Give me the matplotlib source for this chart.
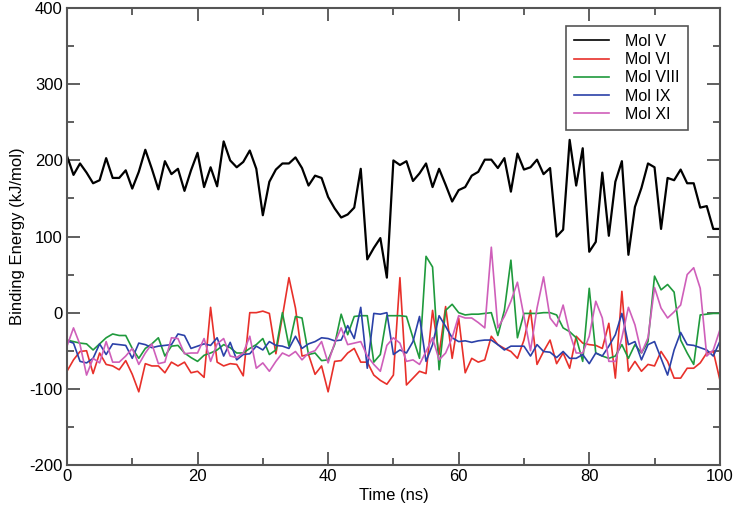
import numpy as np
import matplotlib
matplotlib.use("Agg")
import matplotlib.pyplot as plt
from matplotlib.ticker import MultipleLocator

time_ns = list(range(0, 101))

mol_v = [206, 181, 196, 184, 170, 174, 203, 177, 177, 187,
         163, 185, 214, 189, 162, 199, 182, 189, 160, 187,
         210, 165, 191, 166, 225, 200, 191, 198, 213, 189,
         128, 172, 188, 196, 196, 204, 190, 167, 180, 177,
         152, 137, 125, 129, 138, 189, 70, 85, 98, 46,
         200, 194, 199, 173, 183, 196, 165, 189, 168, 146,
         161, 165, 180, 185, 201, 201, 190, 203, 159, 209,
         188, 191, 201, 182, 190, 100, 109, 227, 167, 216,
         80, 93, 184, 101, 172, 199, 76, 139, 164, 196,
         191, 110, 177, 174, 188, 170, 170, 138, 140, 110,
         110]

mol_vi = [-77, -62, -51, -50, -80, -53, -68, -70, -75, -63,
          -81, -104, -67, -70, -70, -79, -65, -70, -65, -79,
          -77, -85, 7, -65, -70, -67, -68, -83, 0, 0,
          2, -1, -54, -5, 46, 6, -57, -55, -81, -70,
          -104, -64, -63, -53, -47, -65, -65, -82, -89, -94,
          -82, 46, -95, -86, -77, -80, 3, -55, 8, -60,
          -7, -79, -60, -65, -62, -31, -42, -47, -51, -60,
          -36, 3, -68, -51, -36, -67, -53, -73, -31, -40,
          -42, -43, -47, -14, -86, 28, -77, -64, -77, -68,
          -70, -51, -64, -86, -86, -73, -73, -66, -53, -51,
          -88]

mol_viii = [-36, -38, -40, -41, -49, -41, -33, -28, -30, -30,
            -47, -60, -47, -41, -33, -57, -44, -43, -53, -59,
            -64, -56, -53, -49, -42, -46, -53, -53, -47, -42,
            -34, -55, -49, 0, -44, -5, -7, -55, -53, -63,
            -62, -42, -2, -29, -5, -4, -4, -65, -55, -4,
            -4, -4, -5, -33, -60, 74, 60, -75, 3, 11,
            0, -3, -2, -2, -1, 0, -30, 3, 69, -33,
            -1, -1, -1, 0, 0, -3, -20, -25, -33, -64,
            32, -53, -57, -60, -57, -42, -60, -42, -53, -38,
            48, 30, 37, 27, -36, -53, -68, -3, -2, -1,
            -1]

mol_ix = [-37, -40, -64, -66, -60, -41, -55, -41, -42, -43,
          -60, -40, -42, -46, -44, -43, -42, -28, -30, -47,
          -44, -41, -43, -33, -57, -39, -62, -55, -54, -44,
          -49, -38, -43, -44, -47, -31, -47, -41, -38, -33,
          -34, -37, -36, -17, -34, 7, -73, -1, -2, 0,
          -55, -49, -53, -38, -5, -64, -42, -4, -18, -33,
          -38, -37, -39, -37, -36, -36, -42, -49, -44, -44,
          -44, -57, -42, -51, -52, -59, -51, -60, -60, -55,
          -67, -53, -57, -44, -29, -1, -42, -38, -62, -42,
          -38, -60, -82, -49, -26, -42, -43, -46, -49, -57,
          -38]

mol_xi = [-44, -20, -42, -82, -60, -66, -38, -65, -65, -57,
          -47, -68, -53, -41, -67, -65, -33, -34, -54, -53,
          -53, -34, -64, -41, -34, -57, -59, -53, -31, -73,
          -66, -77, -64, -53, -57, -51, -62, -53, -50, -38,
          -66, -40, -20, -42, -40, -38, -57, -68, -77, -43,
          -33, -40, -64, -62, -68, -51, -33, -62, -53, -33,
          -4, -7, -7, -13, -20, 86, -20, -5, 15, 40,
          -5, -50, 6, 47, -7, -18, 10, -27, -53, -53,
          -31, 15, -7, -64, -64, -33, 7, -16, -53, -33,
          33, 6, -7, 1, 10, 50, 59, 32, -57, -49,
          -23]

series = [("Mol V", mol_v, "#000000", 1.6),
          ("Mol VI", mol_vi, "#e8302a", 1.2),
          ("Mol VIII", mol_viii, "#1f9a3c", 1.2),
          ("Mol IX", mol_ix, "#2b41a8", 1.2),
          ("Mol XI", mol_xi, "#cf5fba", 1.2)]

plt.rcParams['font.family'] = ['Liberation Sans', 'DejaVu Sans']
plt.rcParams['axes.unicode_minus'] = False

fig = plt.figure(figsize=(7.36, 5.12), dpi=100)
ax = fig.add_axes([0.091, 0.092, 0.887, 0.892])

for name, vals, col, lw in series:
    ax.plot(time_ns, vals, color=col, lw=lw, label=name)

ax.set_xlim(0, 100)
ax.set_ylim(-200, 400)
ax.xaxis.set_major_locator(MultipleLocator(20))
ax.xaxis.set_minor_locator(MultipleLocator(10))
ax.yaxis.set_major_locator(MultipleLocator(100))
ax.yaxis.set_minor_locator(MultipleLocator(50))
ax.tick_params(which='both', direction='in', top=True, right=True,
               color='#444444', width=1.2, labelsize=12, pad=3)
ax.tick_params(which='major', length=9.5)
ax.tick_params(which='minor', length=5)
for s in ax.spines.values():
    s.set_color('#555555')
    s.set_linewidth(1.5)

ax.set_xlabel("Time (ns)", fontsize=12, labelpad=3)
ax.set_ylabel("Binding Energy (kJ/mol)", fontsize=12, labelpad=3)

leg = ax.legend(loc='upper right', bbox_to_anchor=(0.951, 0.961),
                fontsize=11.5, frameon=True, fancybox=False,
                edgecolor='#555555', framealpha=1, handlelength=2.2,
                labelspacing=0.2, borderpad=0.5, handletextpad=1.0,
                borderaxespad=0)
leg.get_frame().set_linewidth(1.2)
for line in leg.get_lines():
    line.set_linewidth(1.2)

fig.savefig("out.png", dpi=100)
